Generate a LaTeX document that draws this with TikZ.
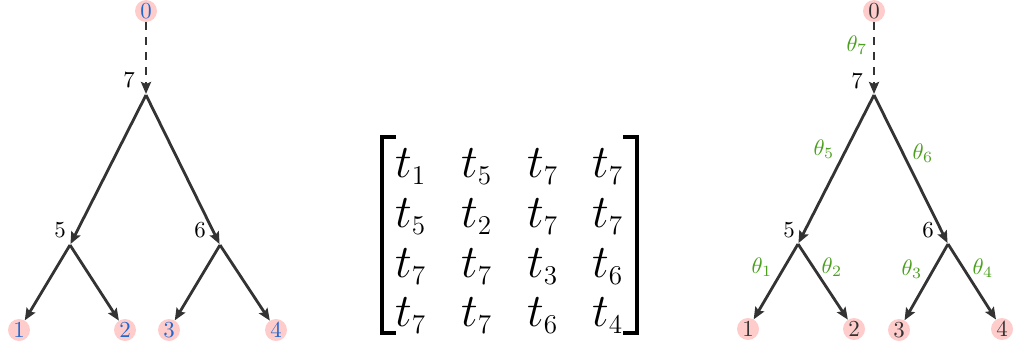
\documentclass[tikz,border=0pt]{standalone}
\usepackage{graphicx}
\usetikzlibrary{arrows.meta}
\DeclareMathSizes{24.88}{24.88}{14.4}{10}
\newcommand{\matent}[1]{\scalebox{1.89}{$#1$}}
\newcommand{\bigtxt}[1]{\scalebox{2.3}{#1}}
\newcommand{\thtxt}[1]{\scalebox{2.25}{$\theta_{#1}$}}
\definecolor{edgec}{RGB}{51,51,51}
\definecolor{leaffill}{RGB}{255,204,204}
\definecolor{leafblue}{RGB}{35,105,205}
\definecolor{thetagreen}{RGB}{75,160,30}
\tikzset{
  edge/.style={draw=edgec, line width=2.8bp, -{Stealth[length=12bp,width=10bp,inset=2bp]}},
  dashededge/.style={edge, dash pattern=on 8bp off 7bp},
  leaf/.style={circle, fill=leaffill, minimum size=22bp, inner sep=0pt, font=\normalsize},
  bluetext/.style={text=leafblue},
  graytext/.style={text=edgec},
  lbl/.style={inner sep=0pt, font=\normalsize},
  th/.style={inner sep=0pt, text=thetagreen, font=\normalsize},
  entry/.style={anchor=base west, inner sep=0pt, font=\fontsize{24.88}{30}\selectfont},
  bracket/.style={draw=black, line width=3.2bp},
}
\begin{document}
\begin{tikzpicture}[x=1bp, y=-1bp]
\useasboundingbox (0,0) rectangle (1013,347);
% ---------- left tree ----------
\node[leaf, bluetext] (L0) at (146,11) {\bigtxt{0}};
\coordinate (L7) at (146,95);
\coordinate (L5) at (70,245);
\coordinate (L6) at (220,245);
\node[leaf, bluetext] (L1) at (19,330) {\bigtxt{1}};
\node[leaf, bluetext] (L2) at (125,330) {\bigtxt{2}};
\node[leaf, bluetext] (L3) at (169,330) {\bigtxt{3}};
\node[leaf, bluetext] (L4) at (276,330) {\bigtxt{4}};
\node[lbl] (l7) at (129,80) {\bigtxt{7}};
\node[lbl] (l5) at (60,230) {\bigtxt{5}};
\node[lbl] (l6) at (200,230) {\bigtxt{6}};
\draw[dashededge, shorten >=1bp] (L0) -- (L7);
\draw[edge, shorten >=1bp] (L7) -- (L5);
\draw[edge, shorten >=1bp] (L7) -- (L6);
\draw[edge] (L5) -- (L1);
\draw[edge] (L5) -- (L2);
\draw[edge] (L6) -- (L3);
\draw[edge] (L6) -- (L4);
% ---------- matrix ----------
\coordinate (BLt) at (396,137);
\coordinate (BLb) at (396,333);
\coordinate (BRt) at (623,137);
\coordinate (BRb) at (623,333);
\draw[bracket] (BLt) -| (382,333) -- (BLb);
\draw[bracket] (BRt) -| (637,333) -- (BRb);
\node[entry] (m11) at (395,177) {\matent{t_1}};
\node[entry] (m12) at (461,177) {\matent{t_5}};
\node[entry] (m13) at (527,177) {\matent{t_7}};
\node[entry] (m14) at (592,177) {\matent{t_7}};
\node[entry] (m21) at (395,227) {\matent{t_5}};
\node[entry] (m22) at (461,227) {\matent{t_2}};
\node[entry] (m23) at (527,227) {\matent{t_7}};
\node[entry] (m24) at (592,227) {\matent{t_7}};
\node[entry] (m31) at (395,277) {\matent{t_7}};
\node[entry] (m32) at (461,277) {\matent{t_7}};
\node[entry] (m33) at (527,277) {\matent{t_3}};
\node[entry] (m34) at (592,277) {\matent{t_6}};
\node[entry] (m41) at (395,326) {\matent{t_7}};
\node[entry] (m42) at (461,326) {\matent{t_7}};
\node[entry] (m43) at (527,326) {\matent{t_6}};
\node[entry] (m44) at (592,326) {\matent{t_4}};
% ---------- right tree ----------
\node[leaf, graytext] (R0) at (874,11) {\bigtxt{0}};
\coordinate (R7) at (874,95);
\coordinate (R5) at (798,244);
\coordinate (R6) at (948,244);
\node[leaf, graytext] (R1) at (748,329) {\bigtxt{1}};
\node[leaf, graytext] (R2) at (854,329) {\bigtxt{2}};
\node[leaf, graytext] (R3) at (899,330) {\bigtxt{3}};
\node[leaf, graytext] (R4) at (1002,329) {\bigtxt{4}};
\node[lbl] (r7) at (857,81) {\bigtxt{7}};
\node[lbl] (r5) at (789,230) {\bigtxt{5}};
\node[lbl] (r6) at (928,230) {\bigtxt{6}};
\draw[dashededge, shorten >=1bp] (R0) -- (R7);
\draw[edge, shorten >=1bp] (R7) -- (R5);
\draw[edge, shorten >=1bp] (R7) -- (R6);
\draw[edge] (R5) -- (R1);
\draw[edge] (R5) -- (R2);
\draw[edge] (R6) -- (R3);
\draw[edge] (R6) -- (R4);
\node[th] (t7) at (857,45) {\thtxt{7}};
\node[th] (t5) at (824,149) {\thtxt{5}};
\node[th] (t6) at (923,153) {\thtxt{6}};
\node[th] (t1) at (762,267) {\thtxt{1}};
\node[th] (t2) at (832,267) {\thtxt{2}};
\node[th] (t3) at (912,269) {\thtxt{3}};
\node[th] (t4) at (983,268) {\thtxt{4}};
\end{tikzpicture}
\end{document}
